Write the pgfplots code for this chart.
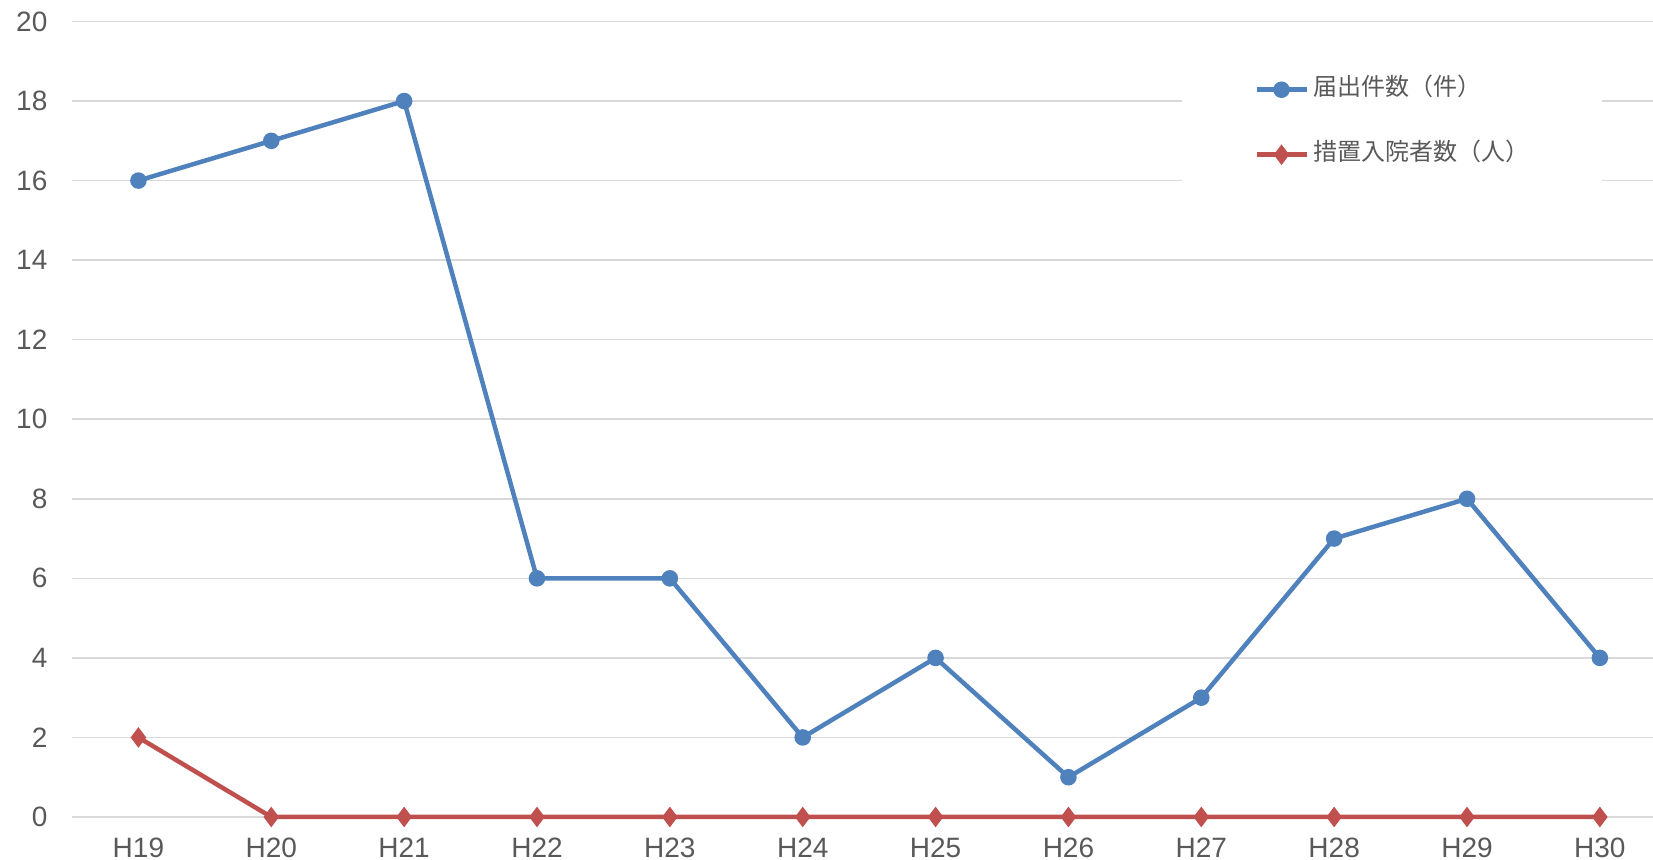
\documentclass[border=0pt]{standalone}
\usepackage{pgfplots}
\pgfplotsset{compat=1.18}
\usepackage{fontspec}
\setmainfont{Liberation Sans}
\newfontfamily\cjk{Noto Sans CJK JP}
\definecolor{textgray}{HTML}{595959}
\definecolor{gridgray}{HTML}{D9D9D9}
\definecolor{sblue}{HTML}{4F81BD}
\definecolor{sred}{HTML}{C0504D}
\begin{document}
\begin{tikzpicture}
\begin{axis}[
  at={(0,0)}, anchor=south west,
  scale only axis,
  width=790.5pt, height=397.75pt,
  xmin=-0.5, xmax=11.4, ymin=0, ymax=20,
  xtick={0,...,11},
  xticklabels={H19,H20,H21,H22,H23,H24,H25,H26,H27,H28,H29,H30},
  ytick={0,2,...,20},
  axis line style={draw=none},
  tick style={draw=none},
  ymajorgrids,
  grid style={color=gridgray, line width=0.75pt},
  /pgf/number format/assume math mode=true,
  tick label style={font=\fontsize{14}{16}\selectfont, color=textgray},
  yticklabel style={xshift=-8.8pt},
  xticklabel style={yshift=-6.8pt},
  clip=false,
  legend image code/.code={
    \draw[mark repeat=2,mark phase=2,#1] plot coordinates {(0pt,0pt) (12.5pt,0pt) (25pt,0pt)};
  },
  legend style={
    at={(0.702,0.9675)}, anchor=north west,
    fill=white, draw=none,
    inner xsep=36pt, inner ysep=15pt,
    row sep=20.5pt, column sep=2.5pt,
    nodes={inner sep=0pt, text height=9pt, text depth=3pt},
    font=\cjk\fontsize{12}{14}\selectfont,
    text=textgray,
  },
  legend cell align=left,
]
\addplot[color=sblue, line width=2.25pt, mark=*, mark size=3pt, mark options={solid}]
  coordinates {(0,16) (1,17) (2,18) (3,6) (4,6) (5,2) (6,4) (7,1) (8,3) (9,7) (10,8) (11,4)};
\addlegendentry{届出件数（件）}
\addplot[color=sred, line width=2.25pt, mark=diamond*, mark size=3.3pt, mark options={solid}]
  coordinates {(0,2) (1,0) (2,0) (3,0) (4,0) (5,0) (6,0) (7,0) (8,0) (9,0) (10,0) (11,0)};
\addlegendentry{措置入院者数（人）}
\end{axis}
\pgfresetboundingbox
\path (-36pt,-21.5pt) rectangle (790.5pt,408.5pt);
\end{tikzpicture}
\end{document}
